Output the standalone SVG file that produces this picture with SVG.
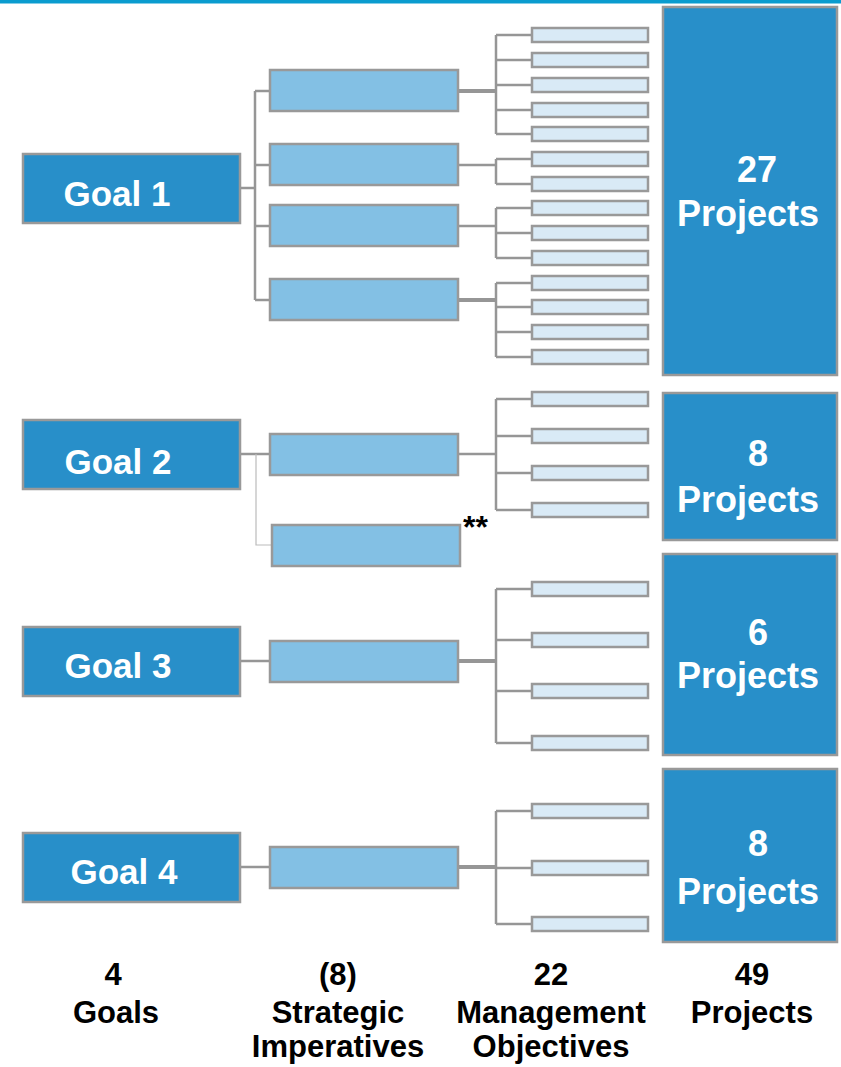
<svg xmlns="http://www.w3.org/2000/svg" width="841" height="1067" viewBox="0 0 841 1067">
<style>
.goal{fill:#288fc9;stroke:#999999;stroke-width:2.5}
.si{fill:#83c0e4;stroke:#999999;stroke-width:2.5}
.mo{fill:#d9eaf6;stroke:#999999;stroke-width:2.5}
.proj{fill:#288fc9;stroke:#999999;stroke-width:2.5}
.wt{fill:#ffffff;font-family:"Liberation Sans",Arial,sans-serif;font-weight:bold;text-anchor:middle}
.bt{fill:#000000;font-family:"Liberation Sans",Arial,sans-serif;font-weight:bold;text-anchor:middle;font-size:31px}
.c{fill:none;stroke:#969696;stroke-width:2.5}
.ct{fill:none;stroke:#969696;stroke-width:4}
.cl{fill:none;stroke:#bbbbbb;stroke-width:1.2}
</style>
<rect x="0" y="0" width="841" height="3.5" fill="#0a9ccf"/>

<g id="connectors">
<!-- Goal 1 -->
<path class="c" d="M241 188H255M255 91V300M255 91H269M255 165H269M255 226H269M255 300H269"/>
<path class="ct" d="M459 91H496"/>
<path class="c" d="M496 35V134M496 35H531M496 60H531M496 85H531M496 110H531M496 134H531"/>
<path class="c" d="M459 165H496M496 159V184M496 159H531M496 184H531"/>
<path class="c" d="M459 226H496M496 208V258M496 208H531M496 233H531M496 258H531"/>
<path class="ct" d="M459 300H496"/>
<path class="c" d="M496 283V357M496 283H531M496 307H531M496 332H531M496 357H531"/>
<!-- Goal 2 -->
<path class="c" d="M241 454H269"/>
<path class="cl" d="M256 454V545H271"/>
<path class="c" d="M459 454H496M496 399V510M496 399H531M496 436H531M496 473H531M496 510H531"/>
<!-- Goal 3 -->
<path class="c" d="M241 661H269"/>
<path class="ct" d="M459 661H496"/>
<path class="c" d="M496 589V743M496 589H531M496 640H531M496 691H531M496 743H531"/>
<!-- Goal 4 -->
<path class="c" d="M241 867H269"/>
<path class="ct" d="M459 867H496"/>
<path class="c" d="M496 811V924M496 811H531M496 868H531M496 924H531"/>
</g>

<g id="goal1"><rect class="goal" x="23" y="154" width="217" height="69"/><text class="wt" x="117" y="206" font-size="35">Goal 1</text></g>
<g id="goal2"><rect class="goal" x="23" y="420" width="217" height="69"/><text class="wt" x="118" y="474" font-size="35">Goal 2</text></g>
<g id="goal3"><rect class="goal" x="23" y="627" width="217" height="69"/><text class="wt" x="118" y="678" font-size="35">Goal 3</text></g>
<g id="goal4"><rect class="goal" x="23" y="833" width="217" height="69"/><text class="wt" x="124" y="884" font-size="35">Goal 4</text></g>

<g id="si1"><rect class="si" x="270" y="70" width="188" height="41"/></g>
<g id="si2"><rect class="si" x="270" y="144" width="188" height="41"/></g>
<g id="si3"><rect class="si" x="270" y="205" width="188" height="41"/></g>
<g id="si4"><rect class="si" x="270" y="279" width="188" height="41"/></g>
<g id="si5"><rect class="si" x="270" y="434" width="188" height="41"/></g>
<g id="si6"><rect class="si" x="272" y="525" width="188" height="41"/><text x="463" y="538" font-family="Liberation Sans,Arial,sans-serif" font-weight="bold" font-size="32" fill="#000">**</text></g>
<g id="si7"><rect class="si" x="270" y="641" width="188" height="41"/></g>
<g id="si8"><rect class="si" x="270" y="847" width="188" height="41"/></g>

<g id="mo">
<rect class="mo" x="532" y="28" width="116" height="14"/>
<rect class="mo" x="532" y="53" width="116" height="14"/>
<rect class="mo" x="532" y="78" width="116" height="14"/>
<rect class="mo" x="532" y="103" width="116" height="14"/>
<rect class="mo" x="532" y="127" width="116" height="14"/>
<rect class="mo" x="532" y="152" width="116" height="14"/>
<rect class="mo" x="532" y="177" width="116" height="14"/>
<rect class="mo" x="532" y="201" width="116" height="14"/>
<rect class="mo" x="532" y="226" width="116" height="14"/>
<rect class="mo" x="532" y="251" width="116" height="14"/>
<rect class="mo" x="532" y="276" width="116" height="14"/>
<rect class="mo" x="532" y="300" width="116" height="14"/>
<rect class="mo" x="532" y="325" width="116" height="14"/>
<rect class="mo" x="532" y="350" width="116" height="14"/>
<rect class="mo" x="532" y="392" width="116" height="14"/>
<rect class="mo" x="532" y="429" width="116" height="14"/>
<rect class="mo" x="532" y="466" width="116" height="14"/>
<rect class="mo" x="532" y="503" width="116" height="14"/>
<rect class="mo" x="532" y="582" width="116" height="14"/>
<rect class="mo" x="532" y="633" width="116" height="14"/>
<rect class="mo" x="532" y="684" width="116" height="14"/>
<rect class="mo" x="532" y="736" width="116" height="14"/>
<rect class="mo" x="532" y="804" width="116" height="14"/>
<rect class="mo" x="532" y="861" width="116" height="14"/>
<rect class="mo" x="532" y="917" width="116" height="14"/>
</g>

<g id="proj1"><rect class="proj" x="663" y="7" width="174" height="368"/><text class="wt" x="757" y="182" font-size="36">27</text><text class="wt" x="748" y="226" font-size="36">Projects</text></g>
<g id="proj2"><rect class="proj" x="663" y="393" width="174" height="147"/><text class="wt" x="758" y="466" font-size="36">8</text><text class="wt" x="748" y="512" font-size="36">Projects</text></g>
<g id="proj3"><rect class="proj" x="663" y="554" width="174" height="201"/><text class="wt" x="758" y="645" font-size="36">6</text><text class="wt" x="748" y="688" font-size="36">Projects</text></g>
<g id="proj4"><rect class="proj" x="663" y="769" width="174" height="173"/><text class="wt" x="758" y="856" font-size="36">8</text><text class="wt" x="748" y="904" font-size="36">Projects</text></g>

<g id="labels">
<text class="bt" x="113" y="985">4</text>
<text class="bt" x="116" y="1023">Goals</text>
<text class="bt" x="338" y="985">(8)</text>
<text class="bt" x="338" y="1023">Strategic</text>
<text class="bt" x="338" y="1057">Imperatives</text>
<text class="bt" x="551" y="985">22</text>
<text class="bt" x="551" y="1023">Management</text>
<text class="bt" x="551" y="1057">Objectives</text>
<text class="bt" x="752" y="985">49</text>
<text class="bt" x="752" y="1023">Projects</text>
</g>
</svg>
